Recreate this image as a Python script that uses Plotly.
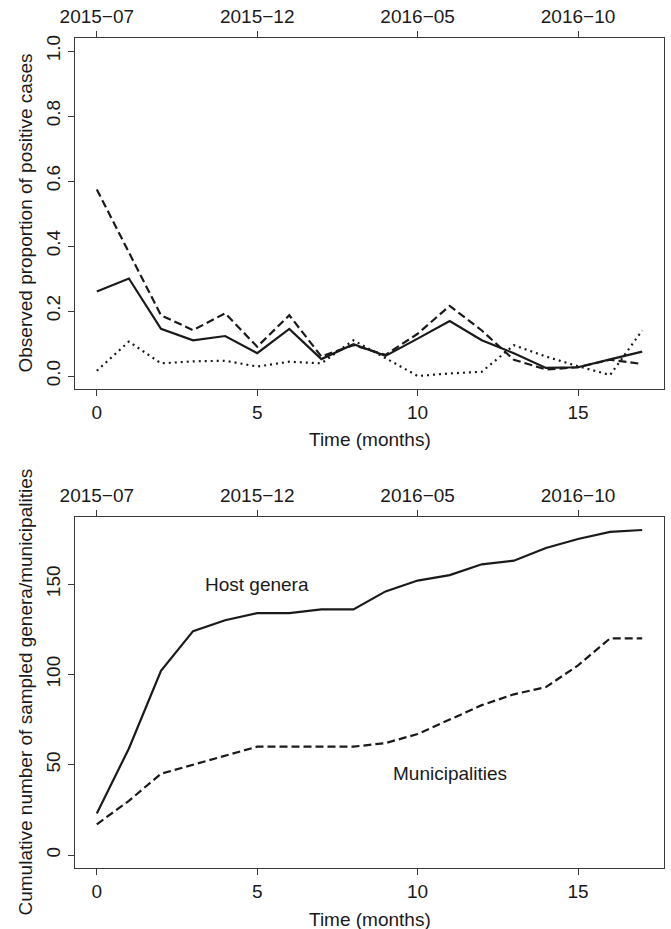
import plotly.graph_objects as go

months = list(range(18))
date_ticks = [0, 5, 10, 15]
date_labels = ["2015−07", "2015−12", "2016−05", "2016−10"]

# Top panel: observed proportion of positive cases
prop_solid = [0.26, 0.30, 0.145, 0.11, 0.123, 0.07, 0.145, 0.052, 0.098, 0.062,
              0.115, 0.169, 0.11, 0.07, 0.025, 0.027, 0.051, 0.075]
prop_dashed = [0.574, 0.38, 0.187, 0.141, 0.193, 0.09, 0.187, 0.06, 0.095, 0.065,
               0.13, 0.216, 0.14, 0.05, 0.02, 0.027, 0.05, 0.037]
prop_dotted = [0.016, 0.106, 0.039, 0.045, 0.047, 0.029, 0.044, 0.039, 0.11, 0.055,
               0.0, 0.008, 0.013, 0.095, 0.06, 0.03, 0.003, 0.14]

# Bottom panel: cumulative counts
host_genera = [23, 59, 102, 124, 130, 134, 134, 136, 136, 146,
               152, 155, 161, 163, 170, 175, 179, 180]
municipalities = [17, 30, 45, 50, 55, 60, 60, 60, 60, 62,
                  67, 75, 83, 89, 93, 105, 120, 120]

top_yticks = [0.0, 0.2, 0.4, 0.6, 0.8, 1.0]
top_ylabels = ["0.0", "0.2", "0.4", "0.6", "0.8", "1.0"]
bot_yticks = [0, 50, 100, 150]

INK = "#1a1a1a"
FRAME = "#3a3a3a"
FONT = "Liberation Sans, Arial, sans-serif"
FS = 19

fig = go.Figure()

def line(x, y, dash, xa, ya, w=2.2):
    fig.add_trace(go.Scatter(x=x, y=y, mode="lines", xaxis=xa, yaxis=ya,
                             line=dict(color=INK, width=w, dash=dash),
                             showlegend=False, hoverinfo="skip"))

line(months, prop_dashed, "8px,4px", "x", "y")
line(months, prop_dotted, "2px,4px", "x", "y")
line(months, prop_solid, "solid", "x", "y")
line(months, host_genera, "solid", "x3", "y3")
line(months, municipalities, "8px,4px", "x3", "y3")

# invisible helpers so the top date axes are drawn
fig.add_trace(go.Scatter(x=months, y=prop_solid, xaxis="x2", yaxis="y", mode="lines",
                         line=dict(width=0), opacity=0, showlegend=False, hoverinfo="skip"))
fig.add_trace(go.Scatter(x=months, y=host_genera, xaxis="x4", yaxis="y3", mode="lines",
                         line=dict(width=0), opacity=0, showlegend=False, hoverinfo="skip"))

W, H = 671, 929
xdom = [75 / W, 664 / W]
top_dom = [1 - 389 / H, 1 - 38 / H]
bot_dom = [1 - 868 / H, 1 - 517 / H]
xr = [-0.68, 17.68]

common_x = dict(range=xr, tickvals=date_ticks, ticks="outside", ticklen=6,
                tickcolor=FRAME, tickwidth=1, showgrid=False, zeroline=False,
                automargin=False,
                tickfont=dict(family=FONT, size=FS, color=INK), fixedrange=True)
common_y = dict(ticks="outside", ticklen=6, tickcolor=FRAME, tickwidth=1,
                showgrid=False, zeroline=False, tickangle=-90, automargin=False,
                showline=True, mirror=True, linecolor=FRAME, linewidth=1,
                tickfont=dict(family=FONT, size=FS, color=INK), fixedrange=True)

fig.update_layout(
    template="none",
    width=W, height=H, margin=dict(l=0, r=0, t=0, b=0, pad=0),
    plot_bgcolor="white", paper_bgcolor="white",
    font=dict(family=FONT, size=FS, color=INK),
    xaxis=dict(domain=xdom, anchor="y", showline=True, mirror=True,
               linecolor=FRAME, linewidth=1, **common_x),
    xaxis2=dict(overlaying="x", side="top", anchor="y", showline=False,
                ticktext=date_labels, **common_x),
    yaxis=dict(domain=top_dom, anchor="x", range=[-0.04, 1.04],
               tickvals=top_yticks, ticktext=top_ylabels, **common_y),
    xaxis3=dict(domain=xdom, anchor="y3", showline=True, mirror=True,
                linecolor=FRAME, linewidth=1, **common_x),
    xaxis4=dict(overlaying="x3", side="top", anchor="y3", showline=False,
                ticktext=date_labels, **common_x),
    yaxis3=dict(domain=bot_dom, anchor="x3", range=[-7.2, 187.2],
                tickvals=bot_yticks, **common_y),
)

tf = dict(family=FONT, size=FS, color=INK)
ann = [
    dict(text="Time (months)", x=(xdom[0] + xdom[1]) / 2, y=1 - 440 / H,
         xref="paper", yref="paper", showarrow=False, xanchor="center",
         yanchor="middle", font=tf),
    dict(text="Time (months)", x=(xdom[0] + xdom[1]) / 2, y=1 - 919 / H,
         xref="paper", yref="paper", showarrow=False, xanchor="center",
         yanchor="middle", font=tf),
    dict(text="Observed proportion of positive cases", x=25 / W,
         y=(top_dom[0] + top_dom[1]) / 2, xref="paper", yref="paper",
         showarrow=False, textangle=-90, xanchor="center", yanchor="middle", font=tf),
    dict(text="Cumulative number of sampled genera/municipalities", x=25 / W,
         y=(bot_dom[0] + bot_dom[1]) / 2, xref="paper", yref="paper",
         showarrow=False, textangle=-90, xanchor="center", yanchor="middle", font=tf),
    dict(text="Host genera", x=5, y=150, xref="x3", yref="y3", showarrow=False, font=tf),
    dict(text="Municipalities", x=11, y=45, xref="x3", yref="y3", showarrow=False, font=tf),
]
fig.update_layout(annotations=ann)

fig.write_html("out.html")
